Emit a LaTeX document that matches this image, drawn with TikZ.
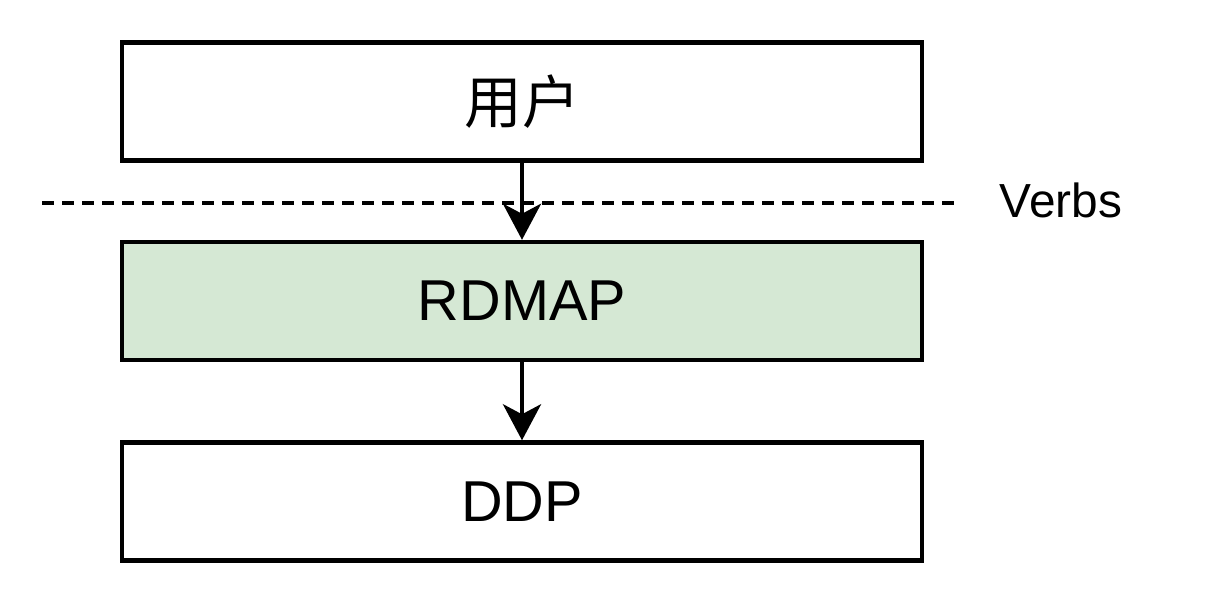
\documentclass[tikz,border=0pt]{standalone}
\usepackage{fontspec}
\setmainfont{Liberation Sans}
\newfontfamily\cjk{Noto Sans CJK SC}
\usepackage{xcolor}
\usetikzlibrary{arrows.meta}
\definecolor{rdmapgreen}{HTML}{D5E8D4}

\begin{document}
\begin{tikzpicture}%
        [x=0.025cm, y=-0.025cm,
        layer/.style={draw=black, line width=0.11cm, minimum width=20cm,
            minimum height=2.95cm, inner sep=0pt, font=\fontsize{41}{48}\selectfont},
        flow/.style={line width=0.11cm, -{Stealth[length=0.9cm, width=0.95cm, inset=0.25cm]}},
        border/.style={dash pattern=on 0.3cm off 0.2cm, line width=0.085cm}]
    \useasboundingbox (0,0) rectangle (1208,608);
    %% Drawing the layers
    \node[layer] (user) at (522,101.5) {\cjk 用户};
    \node[layer, fill=rdmapgreen] (rdmap) at (522,301) {RDMAP};
    \node[layer] (ddp) at (522,501.5) {DDP};
    %%
    %% Verbs boundary
    \coordinate (vleft) at (42,203);
    \coordinate (vright) at (962,203);
    \draw[border] (vleft) -- (vright);
    \node[anchor=west, font=\fontsize{34}{40}\selectfont] (verbs) at (995,200) {Verbs};
    %%
    %% Arrows between layers
    \draw[flow] (user) -- (rdmap);
    \draw[flow] (rdmap) -- (ddp);
\end{tikzpicture}
\end{document}
